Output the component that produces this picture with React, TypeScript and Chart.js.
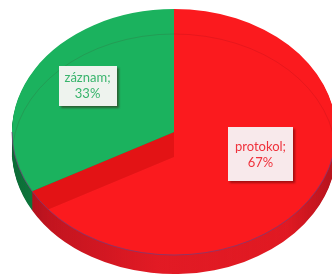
import React, { useEffect, useRef } from "react";
import { Chart, registerables, ArcElement } from "chart.js";

Chart.register(...registerables);

// ---- data ----
const categories = ["protokol", "záznam"];
const values = [67, 33];

// ---- styles ----
const topColors = ["#fb1a1e", "#1bb25e"];
const bandColor = "#e31315";
const labelTextColors = ["#ef323c", "#38b46c"];
const labelBoxColors = ["#f8e9eb", "#eef3ee"];
const labelPadX = [7, 6];
const labelPadY = [11, 4];

const GEO = {
  rx: 162,
  ry: 123,
  depth: 19,
  band: 25,
  cxShift: 8,
  top: 9,
  labelFx: 0.62,
  labelFy: 0.55,
  labelDy: -12,
  lineGap: 16,
};

function geometry(chart: any) {
  const ca = chart.chartArea;
  const cx = (ca.left + ca.right) / 2 + GEO.cxShift;
  const cy = ca.top + GEO.top + GEO.ry;
  return { cx, cy };
}

const pie3d = {
  id: "pie3d",
  beforeDatasetDraw(chart: any, args: any) {
    const meta = args.meta;
    const arcs = meta.data;
    if (!arcs || !arcs.length) return false;
    const ctx: CanvasRenderingContext2D = chart.ctx;
    const a0 = arcs[0];
    const R = a0.outerRadius;
    const { cx, cy } = geometry(chart);

    const at = (dy: number) => {
      ctx.translate(cx, cy + dy);
      ctx.scale(GEO.rx / R, GEO.ry / R);
      ctx.translate(-a0.x, -a0.y);
    };
    const drawArc = (arc: any, color: any, dy: number) => {
      ctx.save();
      at(dy);
      const fake = Object.create(arc);
      fake.options = { ...arc.options, backgroundColor: color, borderWidth: 0, offset: 0, spacing: 0 };
      (ArcElement.prototype as any).draw.call(fake, ctx);
      ctx.restore();
    };

    // side gradients in arc space
    const redSide = ctx.createLinearGradient(a0.x - R, 0, a0.x + R, 0);
    redSide.addColorStop(0, "#a3101e");
    redSide.addColorStop(0.12, "#c3141f");
    redSide.addColorStop(0.45, "#e21a24");
    redSide.addColorStop(0.85, "#e01922");
    redSide.addColorStop(1, "#b5131d");
    const greenSide = ctx.createLinearGradient(a0.x - R, 0, a0.x + R, 0);
    greenSide.addColorStop(0, "#0c6a36");
    greenSide.addColorStop(0.2, "#129048");
    greenSide.addColorStop(1, "#129048");
    const sides = [redSide, greenSide];

    ctx.save();
    // red top face
    drawArc(arcs[0], topColors[0], 0);
    // dark band on the red top
    ctx.globalCompositeOperation = "source-atop";
    drawArc(arcs[1], bandColor, GEO.band);
    // side walls behind
    ctx.globalCompositeOperation = "destination-over";
    for (let d = 1; d <= GEO.depth; d++) {
      arcs.forEach((arc: any, i: number) => drawArc(arc, sides[i], d));
    }
    ctx.globalCompositeOperation = "source-over";
    // green top face
    drawArc(arcs[1], topColors[1], 0);

    // faint inner ring line
    ctx.save();
    at(GEO.band);
    ctx.beginPath();
    ctx.arc(a0.x, a0.y, R, Math.PI, 2 * Math.PI);
    ctx.restore();
    ctx.lineWidth = 1;
    ctx.strokeStyle = "rgba(90,0,20,0.12)";
    ctx.stroke();

    // rim line on the front edge
    ctx.save();
    at(0);
    ctx.beginPath();
    ctx.arc(a0.x, a0.y, R, 0, Math.PI);
    ctx.restore();
    ctx.lineWidth = 1;
    ctx.strokeStyle = "rgba(120,60,120,0.75)";
    ctx.stroke();
    ctx.restore();
    return false;
  },
  afterDatasetsDraw(chart: any) {
    const meta = chart.getDatasetMeta(0);
    const ctx: CanvasRenderingContext2D = chart.ctx;
    const { cx, cy } = geometry(chart);
    const data = chart.data.datasets[0].data as number[];
    const total = data.reduce((s, v) => s + v, 0);
    ctx.save();
    ctx.font = "13px Lato";
    ctx.textAlign = "center";
    ctx.textBaseline = "middle";
    meta.data.forEach((arc: any, i: number) => {
      const mid = (arc.startAngle + arc.endAngle) / 2;
      const lx = cx + GEO.labelFx * GEO.rx * Math.cos(mid);
      const ly = cy + GEO.labelDy + GEO.labelFy * GEO.ry * Math.sin(mid);
      const l1 = `${chart.data.labels[i]};`;
      const l2 = `${Math.round((data[i] / total) * 100)}%`;
      const tw = Math.max(ctx.measureText(l1).width, ctx.measureText(l2).width);
      const w = Math.round(tw + 2 * labelPadX[i]);
      const h = Math.round(2 * GEO.lineGap + 2 * labelPadY[i]);
      const bx = Math.round(lx - w / 2);
      const by = Math.round(ly - h / 2);
      ctx.save();
      ctx.shadowColor = "rgba(60,0,0,0.45)";
      ctx.shadowOffsetX = 2;
      ctx.shadowOffsetY = 2;
      ctx.shadowBlur = 2;
      ctx.fillStyle = labelBoxColors[i];
      ctx.fillRect(bx, by, w, h);
      ctx.restore();
      ctx.fillStyle = labelTextColors[i];
      ctx.fillText(l1, lx, ly - GEO.lineGap / 2);
      ctx.fillText(l2, lx, ly + GEO.lineGap / 2);
    });
    ctx.restore();
  },
};

export default function App() {
  const ref = useRef<HTMLCanvasElement | null>(null);
  useEffect(() => {
    if (!ref.current) return;
    const chart = new Chart(ref.current, {
      type: "pie",
      data: {
        labels: categories,
        datasets: [
          {
            data: values,
            backgroundColor: topColors,
            borderWidth: 0,
          },
        ],
      },
      options: {
        animation: false,
        responsive: true,
        maintainAspectRatio: false,
        layout: { padding: 0 },
        events: [],
        plugins: {
          legend: { display: false },
          tooltip: { enabled: false },
          title: { display: false },
        },
      },
      plugins: [pie3d],
    });
    return () => chart.destroy();
  }, []);
  return (
    <div style={{ position: "absolute", left: 0, top: 0, width: 332, height: 278, background: "#ffffff" }}>
      <canvas ref={ref} />
    </div>
  );
}
